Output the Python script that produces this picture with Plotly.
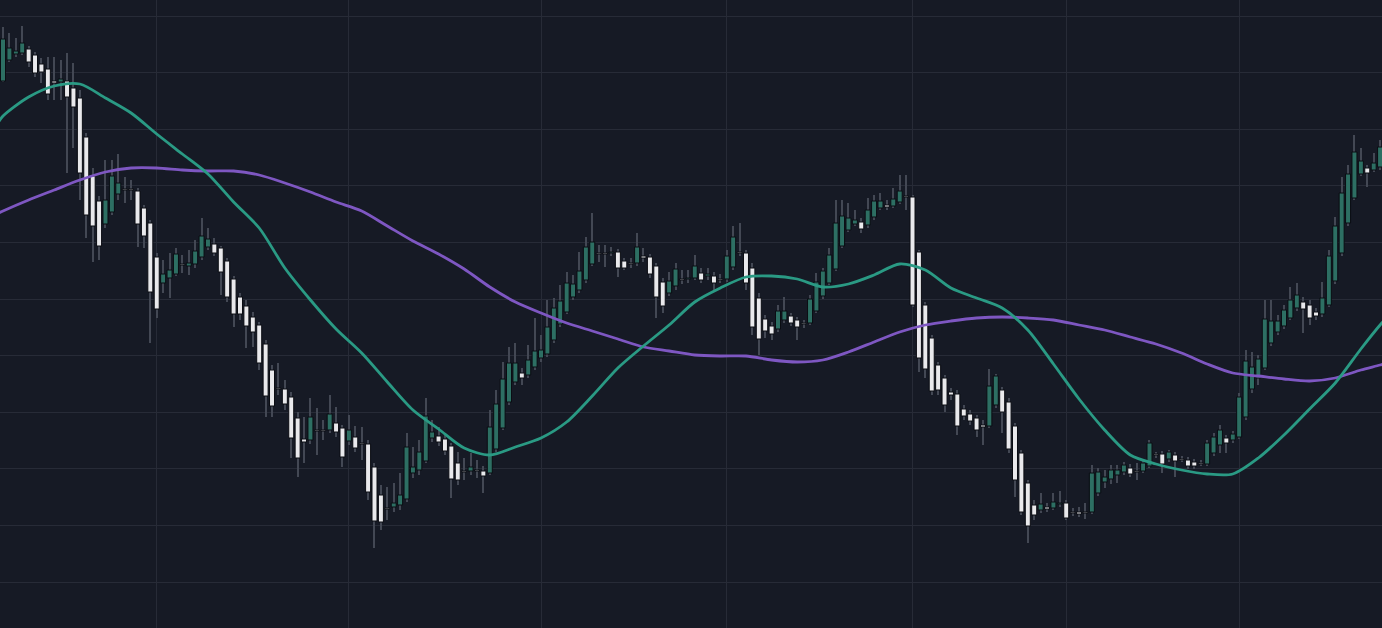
import plotly.graph_objects as go

# candle data, one value per bar (left to right)
opens = [
    619, 640, 646, 647, 651, 645, 636, 631, 619, 618,
    619, 612, 602, 563, 524, 499, 476, 488, 506, 511,
    511, 509, 492, 477, 443, 417, 422, 426, 436, 434,
    436, 443, 453, 456, 452, 439, 421, 403, 394, 383,
    375, 356, 330, 312, 311, 303, 282, 261, 260, 270,
    270, 270, 277, 272, 259, 263, 257, 256, 233, 205,
    192, 193, 195, 201, 227, 230, 239, 262, 264, 261,
    254, 237, 229, 229, 230, 229, 227, 251, 272, 298,
    318, 327, 325, 333, 342, 346, 360, 376, 388, 403,
    410, 420, 436, 447, 447, 447, 448, 439, 437, 437,
    444, 443, 434, 418, 407, 414, 421, 421, 422, 427,
    424, 424, 421, 421, 433, 448, 447, 432, 402, 381,
    374, 371, 380, 384, 380, 377, 377, 389, 404, 417,
    431, 454, 470, 476, 478, 475, 483, 492, 495, 494,
    498, 504, 503, 448, 395, 362, 335, 322, 308, 306,
    291, 286, 282, 275, 274, 295, 310, 298, 274, 247,
    217, 195, 190, 193, 192, 196, 197, 188, 188, 188,
    188, 207, 218, 221, 225, 228, 232, 229, 229, 234,
    246, 246, 241, 245, 241, 240, 238, 237, 236, 247,
    255, 262, 260, 263, 283, 311, 322, 332, 357, 368,
    374, 382, 392, 398, 395, 388, 386, 395, 419, 447,
    477, 502, 526, 532, 530, 533,
]
highs = [
    673, 667, 662, 674, 654, 648, 642, 643, 643, 640,
    647, 637, 610, 567, 532, 504, 540, 540, 546, 523,
    520, 512, 495, 480, 447, 440, 447, 452, 445, 450,
    460, 482, 472, 462, 454, 442, 424, 407, 400, 388,
    378, 360, 335, 337, 320, 308, 288, 283, 302, 292,
    280, 305, 293, 275, 285, 274, 273, 260, 237, 215,
    213, 217, 227, 267, 253, 260, 302, 280, 273, 265,
    257, 248, 242, 247, 240, 234, 290, 310, 338, 353,
    357, 332, 355, 382, 365, 400, 402, 415, 428, 425,
    448, 463, 487, 455, 455, 453, 451, 442, 442, 467,
    452, 446, 437, 422, 428, 437, 430, 430, 445, 432,
    432, 428, 426, 450, 474, 477, 450, 437, 407, 385,
    378, 395, 403, 387, 383, 380, 405, 427, 432, 452,
    500, 500, 497, 490, 482, 502, 505, 507, 500, 512,
    525, 525, 505, 450, 398, 365, 338, 325, 312, 310,
    295, 290, 285, 280, 331, 326, 313, 302, 277, 250,
    220, 200, 207, 197, 207, 209, 200, 192, 193, 197,
    235, 232, 230, 235, 235, 238, 236, 237, 240, 260,
    248, 249, 250, 248, 244, 243, 241, 240, 260, 267,
    275, 265, 269, 307, 350, 348, 345, 400, 400, 385,
    395, 413, 417, 403, 400, 392, 418, 450, 483, 523,
    535, 565, 552, 535, 547, 560,
]
lows = [
    618, 638, 643, 645, 633, 623, 617, 600, 600, 600,
    527, 552, 500, 462, 438, 440, 472, 485, 500, 497,
    500, 453, 452, 357, 382, 407, 402, 424, 427, 425,
    432, 440, 450, 444, 405, 398, 373, 380, 352, 353,
    330, 283, 283, 305, 290, 242, 223, 237, 256, 245,
    260, 267, 263, 233, 255, 248, 240, 200, 152, 170,
    180, 188, 190, 198, 222, 225, 237, 258, 254, 245,
    202, 215, 220, 225, 222, 207, 225, 248, 270, 295,
    315, 315, 322, 330, 338, 343, 357, 373, 386, 400,
    407, 417, 434, 438, 433, 444, 423, 430, 432, 434,
    438, 422, 382, 387, 404, 410, 416, 417, 420, 417,
    420, 410, 417, 418, 430, 444, 410, 365, 345, 362,
    360, 368, 377, 374, 360, 372, 375, 387, 401, 415,
    429, 452, 468, 474, 467, 472, 480, 490, 490, 492,
    496, 490, 393, 328, 322, 305, 305, 288, 300, 265,
    280, 275, 263, 255, 272, 292, 267, 247, 203, 185,
    157, 180, 187, 188, 190, 193, 180, 184, 183, 181,
    186, 204, 212, 216, 217, 225, 223, 220, 227, 232,
    242, 227, 238, 223, 238, 231, 231, 234, 234, 244,
    247, 247, 257, 261, 280, 307, 315, 330, 354, 365,
    371, 380, 389, 367, 375, 380, 383, 393, 416, 444,
    474, 500, 524, 513, 528, 530,
]
closes = [
    661, 652, 649, 657, 638, 627, 628, 606, 617, 621,
    603, 593, 527, 485, 474, 454, 500, 524, 517, 510,
    510, 476, 464, 408, 391, 426, 430, 446, 435, 437,
    449, 464, 461, 447, 428, 403, 386, 386, 374, 368,
    337, 304, 294, 311, 296, 262, 242, 258, 283, 269,
    269, 286, 268, 243, 270, 252, 256, 208, 179, 178,
    191, 197, 205, 253, 233, 248, 284, 268, 258, 249,
    221, 220, 228, 233, 229, 224, 273, 296, 321, 337,
    337, 322, 340, 349, 350, 373, 392, 399, 417, 416,
    429, 453, 458, 446, 446, 448, 432, 432, 436, 453,
    442, 426, 403, 394, 419, 431, 420, 422, 434, 420,
    426, 417, 420, 444, 463, 447, 417, 373, 361, 369,
    366, 389, 389, 377, 373, 376, 401, 418, 429, 445,
    477, 484, 482, 480, 471, 490, 499, 499, 493, 501,
    509, 503, 395, 342, 331, 309, 310, 295, 305, 274,
    284, 279, 270, 273, 314, 324, 288, 251, 220, 188,
    174, 185, 196, 191, 198, 197, 182, 187, 186, 187,
    227, 228, 223, 230, 230, 235, 226, 228, 237, 257,
    245, 236, 248, 239, 240, 234, 234, 236, 257, 263,
    270, 257, 266, 303, 339, 333, 341, 381, 379, 379,
    390, 400, 405, 391, 382, 384, 402, 444, 474, 507,
    526, 548, 539, 527, 537, 553,
]

# moving averages at every 4th bar
ma_bars = [-1, 0, 4, 8, 12, 16, 20, 24, 28, 32, 36, 40, 44, 48, 52, 56, 60,
           64, 68, 72, 76, 80, 84, 88, 92, 96, 100, 104, 108, 112, 116, 120,
           124, 128, 132, 136, 140, 144, 148, 152, 156, 160, 164, 168, 172,
           176, 180, 184, 188, 192, 196, 200, 204, 208, 212, 215, 216]
ma_fast = [575, 584, 603, 614, 616, 602, 587, 566, 546, 526, 498, 472, 432,
           400, 371, 347, 318, 290, 271, 252, 245, 253, 262, 278, 304, 332,
           354, 375, 398, 412, 423, 424, 421, 413, 416, 425, 436, 430, 412,
           402, 392, 370, 336, 301, 270, 245, 236, 230, 226, 226, 242, 265,
           291, 317, 351, 375, 382]
ma_slow = [486, 489, 500, 510, 520, 528, 532, 532, 530, 529, 529, 525, 517,
           508, 498, 489, 474, 459, 446, 431, 413, 398, 387, 377, 369, 361,
           353, 349, 345, 344, 344, 340, 338, 340, 348, 358, 368, 375, 379,
           382, 383, 382, 380, 375, 370, 363, 356, 347, 336, 327, 324, 321,
           319, 322, 330, 335, 337]

# bars where a new session starts (vertical grid)
session_bars = [24, 54, 84, 113, 142, 166, 193]

BG = "#161a25"
GRID = "#272b37"
UP = "#2d6f63"
DOWN = "#e9e9ec"
WICK = "#434854"
OUTLINE = "#0b0d13"

idx = list(range(len(opens)))
fig = go.Figure()

# wicks as thin bars
fig.add_trace(go.Bar(x=idx, y=[h - l for h, l in zip(highs, lows)], base=lows,
                     width=0.16, marker_color=WICK, marker_line_width=0,
                     hoverinfo="skip"))

up = [i for i in idx if closes[i] > opens[i]]
down = [i for i in idx if closes[i] <= opens[i]]
for sel, col in ((up, UP), (down, DOWN)):
    fig.add_trace(go.Bar(
        x=sel,
        base=[min(opens[i], closes[i]) for i in sel],
        y=[max(abs(closes[i] - opens[i]), 1) for i in sel],
        width=0.78, marker_color=col,
        marker_line_color=OUTLINE, marker_line_width=1,
        hoverinfo="skip"))

fig.add_trace(go.Scatter(x=ma_bars, y=ma_slow, mode="lines", hoverinfo="skip",
                         line=dict(color="#7e57c2", width=2.8, shape="spline", smoothing=0.8)))
fig.add_trace(go.Scatter(x=ma_bars, y=ma_fast, mode="lines", hoverinfo="skip",
                         line=dict(color="#2a9a84", width=2.8, shape="spline", smoothing=0.8)))

fig.update_layout(
    width=1382, height=628,
    margin=dict(l=0, r=0, t=0, b=0),
    paper_bgcolor=BG, plot_bgcolor=BG,
    showlegend=False, barmode="overlay",
    xaxis=dict(range=[-0.47, 215.3], tickvals=session_bars, showticklabels=False,
               showgrid=True, gridcolor=GRID, gridwidth=1, zeroline=False, showline=False,
               ticks=""),
    yaxis=dict(range=[72, 700], tick0=684, dtick=56.6, showticklabels=False,
               showgrid=True, gridcolor=GRID, gridwidth=1, zeroline=False, showline=False,
               ticks=""),
)

# page has no body margin so the chart fills the window
fig.write_html("out.html", config={"displayModeBar": False},
               post_script="document.body.style.margin='0';document.body.style.overflow='hidden';")
